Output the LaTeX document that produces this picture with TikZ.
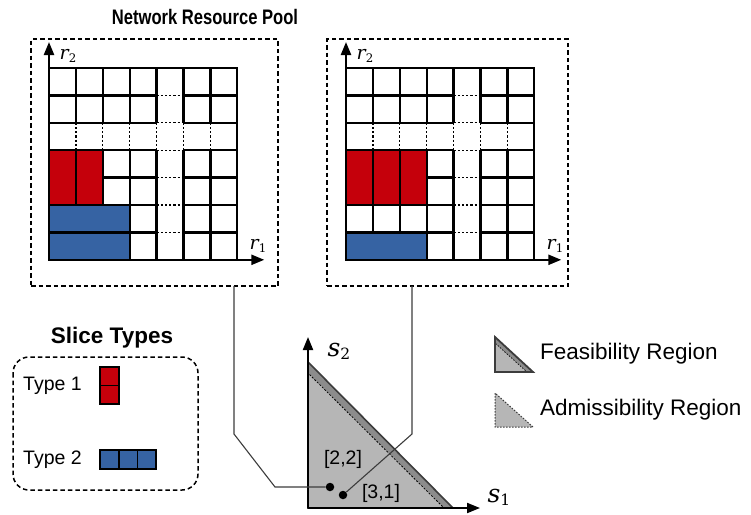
\documentclass[tikz,border=0pt]{standalone}
\usepackage{fontspec}
\setmainfont{Liberation Sans}
\newfontfamily\lblfont{DejaVu Serif}
\usetikzlibrary{arrows.meta}
\definecolor{sred}{RGB}{197,0,11}
\definecolor{sblue}{RGB}{54,99,163}
\definecolor{feasgray}{RGB}{140,140,140}
\definecolor{admgray}{RGB}{182,182,182}
\definecolor{edgegray}{RGB}{60,60,60}
\def\cw{26.9}
\def\ch{27.4}
\newcommand{\axlbl}[3]{{\fontsize{#3}{#3}\lblfont\itshape #1}\raisebox{-0.28em}{\fontsize{0.62\dimexpr #3pt\relax}{1}\lblfont #2}}
\tikzset{
  gridline/.style={line width=2.3pt, black},
  dotline/.style={line width=1.2pt, black, dash pattern=on 2.2pt off 2pt},
  blockstyle/.style={line width=2.3pt, draw=black},
  axisline/.style={line width=2.3pt, -{Triangle[length=13pt,width=10pt]}},
  panelbox/.style={draw, line width=1.5pt, dash pattern=on 4.5pt off 3pt},
  conn/.style={line width=1.1pt, edgegray},
  dot/.style={circle, fill=black, inner sep=0pt, minimum size=8.5pt},
  lbl/.style={font=\fontsize{19.5}{22}\selectfont, inner sep=0pt},
  leg/.style={font=\fontsize{22.5}{26}\selectfont, inner sep=0pt, anchor=west},
  axl/.style={inner sep=0pt},
  netgrid/.pic={
    \foreach \i in {1,...,6}{
      \draw[gridline] (\i*\cw,0) -- (\i*\cw,2*\ch);
      \draw[gridline] (\i*\cw,3*\ch) -- (\i*\cw,7*\ch);
      \draw[dotline] (\i*\cw,2*\ch) -- (\i*\cw,3*\ch);
      \draw[gridline] (0,\i*\ch) -- (4*\cw,\i*\ch);
      \draw[gridline] (5*\cw,\i*\ch) -- (7*\cw,\i*\ch);
      \draw[dotline] (4*\cw,\i*\ch) -- (5*\cw,\i*\ch);
    }
    \draw[gridline] (0,0) rectangle (7*\cw,7*\ch);
  }
}
\begin{document}
\begin{tikzpicture}[x=1pt,y=-1pt]
\useasboundingbox (0,0) rectangle (751,514);

% title
\node[font=\fontsize{21}{24}\selectfont\bfseries, inner sep=0pt] (title) at (205,17) {\scalebox{0.79}[1]{Network Resource Pool}};

% panels
\node[panelbox, minimum width=247pt, minimum height=247pt] (lpanel) at (154.5,162.5) {};
\node[panelbox, minimum width=241pt, minimum height=247pt] (rpanel) at (447.5,162.5) {};

% left grid
\pic at (49,68) {netgrid};
\begin{scope}[shift={(49,68)}]
  \filldraw[blockstyle, fill=sred] (0,3*\ch) rectangle (\cw,5*\ch);
  \filldraw[blockstyle, fill=sred] (\cw,3*\ch) rectangle (2*\cw,5*\ch);
  \filldraw[blockstyle, fill=sblue] (0,5*\ch) rectangle (3*\cw,6*\ch);
  \filldraw[blockstyle, fill=sblue] (0,6*\ch) rectangle (3*\cw,7*\ch);
  \coordinate (lo) at (0,7*\ch);
  \coordinate (ltop) at (0,-26);
  \coordinate (lright) at (7*\cw+27,7*\ch);
\end{scope}
\draw[axisline] (lo) -- (ltop);
\draw[axisline] (lo) -- (lright);
\node[axl] (lr2) at (68,56) {\axlbl{r}{2}{19}};
\node[axl] (lr1) at (258,246) {\axlbl{r}{1}{19}};

% right grid
\pic at (346,68) {netgrid};
\begin{scope}[shift={(346,68)}]
  \filldraw[blockstyle, fill=sred] (0,3*\ch) rectangle (\cw,5*\ch);
  \filldraw[blockstyle, fill=sred] (\cw,3*\ch) rectangle (2*\cw,5*\ch);
  \filldraw[blockstyle, fill=sred] (2*\cw,3*\ch) rectangle (3*\cw,5*\ch);
  \filldraw[blockstyle, fill=sblue] (0,6*\ch) rectangle (3*\cw,7*\ch);
  \coordinate (ro) at (0,7*\ch);
  \coordinate (rtop) at (0,-26);
  \coordinate (rright) at (7*\cw+27,7*\ch);
\end{scope}
\draw[axisline] (ro) -- (rtop);
\draw[axisline] (ro) -- (rright);
\node[axl] (rr2) at (365,56) {\axlbl{r}{2}{19}};
\node[axl] (rr1) at (555,246) {\axlbl{r}{1}{19}};

% slice types
\node[font=\fontsize{22.5}{26}\selectfont\bfseries, inner sep=0pt] (sttitle) at (112,338) {Slice Types};
\draw[panelbox, rounded corners=16pt] (13,357) rectangle (198,490);
\node[lbl, anchor=west] (t1) at (23,386) {Type 1};
\node[lbl, anchor=west] (t2) at (23,460) {Type 2};
\filldraw[line width=1.6pt, fill=sred] (100,367) rectangle (119,385.5);
\filldraw[line width=1.6pt, fill=sred] (100,385.5) rectangle (119,404);
\filldraw[line width=1.6pt, fill=sblue] (100,450) rectangle (119,469);
\filldraw[line width=1.6pt, fill=sblue] (119,450) rectangle (137.5,469);
\filldraw[line width=1.6pt, fill=sblue] (137.5,450) rectangle (156,469);

% triangle region
\coordinate (so) at (308,508);
\fill[feasgray] (308,362) -- (308,508) -- (453,508) -- cycle;
\filldraw[fill=admgray, draw=black, line width=0.8pt, dash pattern=on 2pt off 1.5pt] (308,373) -- (308,508) -- (444,508) -- cycle;
\draw[line width=1.6pt, edgegray, line join=miter] (308,508) -- (308,362) -- (453,508) -- cycle;
\coordinate (stop) at (308,337);
\coordinate (sright) at (480,508);
\draw[line width=2pt, -{Triangle[length=13pt,width=10pt]}] (so) -- (stop);
\draw[line width=2pt, -{Triangle[length=13pt,width=10pt]}] (so) -- (sright);
\node[axl] (s2) at (339,351) {\axlbl{s}{2}{25}};
\node[axl] (s1) at (499,497) {\axlbl{s}{1}{25}};

% points
\node[dot] (d22) at (330,487) {};
\node[dot] (d31) at (343,495) {};
\node[lbl] (l22) at (343,459) {[2,2]};
\node[lbl] (l31) at (381,493) {[3,1]};

% connectors
\coordinate (c1a) at (234,286);
\coordinate (c1b) at (234,434);
\coordinate (c1c) at (275,487);
\coordinate (c2a) at (412,286);
\coordinate (c2b) at (412,434);
\draw[conn] (c1a) -- (c1b) -- (c1c) -- (d22);
\draw[conn] (c2a) -- (c2b) -- (d31);

% legend
\fill[feasgray] (495,337) -- (495,372) -- (533,372) -- cycle;
\filldraw[fill=admgray, draw=black, line width=0.7pt, dash pattern=on 1.5pt off 1.5pt] (495,343) -- (495,372) -- (527,372) -- cycle;
\draw[line width=1.8pt, edgegray, line join=miter] (495,337) -- (495,372) -- (533,372) -- cycle;
\node[leg] (feas) at (540,354) {Feasibility Region};
\filldraw[fill=admgray, draw=edgegray, line width=1pt, dash pattern=on 1.5pt off 1.5pt] (495,393) -- (495,427) -- (533,427) -- cycle;
\node[leg] (adm) at (540,410) {Admissibility Region};
\end{tikzpicture}
\end{document}
